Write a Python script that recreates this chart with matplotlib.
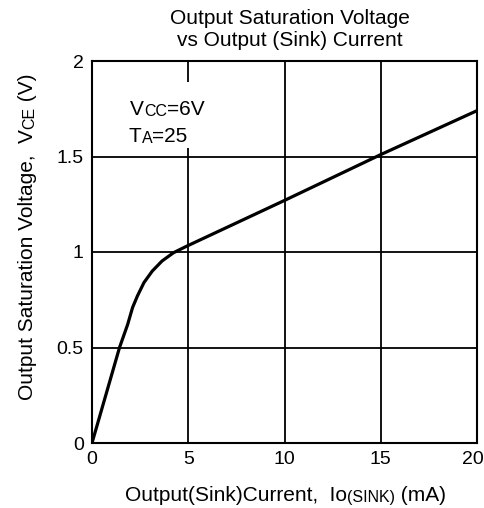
import numpy as np
import matplotlib
matplotlib.use("Agg")
import matplotlib.pyplot as plt
import matplotlib.transforms as mtrans
from matplotlib.patches import Rectangle
from matplotlib.text import Annotation

plt.rcParams['font.family'] = ['Liberation Sans', 'DejaVu Sans']

# curva (mA, V)
corriente = [0, 1.43, 1.85, 2.11, 2.36, 2.70, 3.13, 3.64, 4.23, 4.91, 10, 15, 20]
vce = [0, 0.5, 0.62, 0.71, 0.77, 0.84, 0.90, 0.953, 0.996, 1.03, 1.27, 1.51, 1.74]

xticks = [0, 5, 10, 15, 20]
yticks = [0, 0.5, 1, 1.5, 2]
ytick_labels = ['0', '0.5', '1', '1.5', '2']

W, H = 485, 508
fig = plt.figure(figsize=(W / 100, H / 100), dpi=100)
ax = fig.add_axes([92 / W, 1 - 443 / H, 385 / W, 382 / H])

ax.plot(corriente, vce, color='black', linewidth=2.3, solid_joinstyle='round', zorder=4)
ax.set_xlim(0, 20)
ax.set_ylim(0, 2)
ax.set_xticks(xticks)
ax.set_yticks(yticks)
ax.set_yticklabels(ytick_labels)
ax.tick_params(length=0, labelsize=14, pad=6)
ax.grid(True, color='black', linewidth=1.3)
ax.set_axisbelow(True)
for s in ax.spines.values():
    s.set_linewidth(1.5)

# el "20" del borde va un poco a la izquierda para que no se corte
ultimo = ax.get_xticklabels()[-1]
ultimo.set_transform(ultimo.get_transform() +
                     mtrans.ScaledTranslation(-4 / 100, 0, fig.dpi_scale_trans))

# caja blanca detras de la anotacion (corta la linea de la reja)
ax.add_patch(Rectangle(((120 - 92) / 385, (443 - 148) / 382), 85 / 385, 66 / 382,
                       transform=ax.transAxes, facecolor='white', edgecolor='none', zorder=2))


def cadena(x, y, piezas, rotation=0):
    """Escribe trozos de texto de distinto tamano uno detras de otro."""
    t = fig.text(x / W, 1 - y / H, piezas[0][0], fontsize=piezas[0][1],
                 ha='left', va='baseline', rotation=rotation, zorder=5)
    for txt, size in piezas[1:]:
        if rotation == 0:
            t = fig.add_artist(Annotation(txt, xy=(1, 0), xycoords=t, fontsize=size,
                                          ha='left', va='bottom', annotation_clip=False))
        else:
            t = fig.add_artist(Annotation(txt, xy=(1, 1), xycoords=t, fontsize=size,
                                          ha='right', va='bottom', rotation=rotation,
                                          annotation_clip=False))
    return t


cadena(130, 115, [('V', 15), ('CC', 11.5), ('=6V', 15)])
cadena(129, 142, [('T', 15), ('A', 11.5), ('=25', 15)])

cadena(125, 501, [('Output(Sink)Current,  Io', 15), ('(SINK)', 11.5), (' (mA)', 15)])
cadena(18, 396, [('Output Saturation Voltage,  V', 15), ('CE', 11.5), (' (V)', 15)], rotation=90)

fig.text(290 / W, 1 - 30 / H, 'Output Saturation Voltage\nvs Output (Sink) Current',
         ha='center', va='center', fontsize=15, linespacing=1.2)

fig.savefig('out.png', dpi=100)
